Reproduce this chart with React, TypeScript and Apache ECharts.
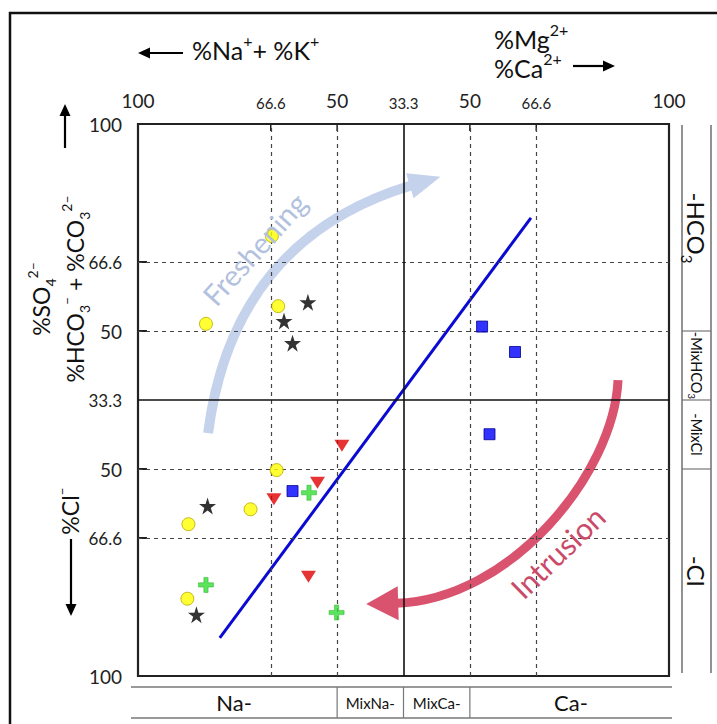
import { useEffect, useRef } from 'react';
import * as echarts from 'echarts';

const FONT = 'Lato, "Open Sans", "DejaVu Sans", sans-serif';

// Diagram units: 0–100 along each side of the square, 50 is the centre line.
const xTickValues = [0, 25, 37.5, 50, 62.5, 75, 100];
const xTickLabels = ['100', '66.6', '50', '33.3', '50', '66.6', '100'];
const yTickValues = [0, 25, 37.5, 50, 62.5, 75, 100];
const yTickLabels = ['100', '66.6', '50', '33.3', '50', '66.6', '100'];
const dashedLevels = [25, 37.5, 62.5, 75];
const centreLevel = 50;

// Facies classes: cations along the bottom, anions down the right side.
const cationClasses = ['{m|Na-}', '{s|MixNa-}', '{s|MixCa-}', '{m|Ca-}'];
const cationBreaks = [37.5, 50, 62.5];
const anionClasses = ['{m|-HCO}{sub|3}', '{s|-MixHCO}{ssub|3}', '{s|-MixCl}', '{m|-Cl}'];
const anionBreaks = [62.5, 50, 37.5];

// Samples, [x, y] in diagram units.
const circleSamples = [
  [25.2, 79.7], [26.4, 67.0], [12.8, 63.8], [26.1, 37.3],
  [21.2, 30.2], [9.5, 27.5], [9.3, 14.0],
];
const starSamples = [
  [32.0, 67.7], [27.5, 64.3], [29.1, 60.3], [13.1, 30.8], [11.0, 11.1],
];
const triangleSamples = [
  [38.4, 41.7], [33.8, 35.0], [25.6, 32.0], [32.1, 18.0],
];
const crossSamples = [
  [32.2, 33.2], [12.8, 16.5], [37.4, 11.5],
];
const squareSamples = [
  [29.1, 33.5], [64.8, 63.3], [71.0, 58.7], [66.2, 43.8],
];
// Conservative mixing line between fresh and saline end-members.
const mixingLine = [
  [15.4, 6.9], [74.0, 83.0],
];

const STAR =
  'path://M50,0 L61.2,34.5 L97.6,34.5 L68.2,55.9 L79.4,90.5 L50,69.1 L20.6,90.5 L31.8,55.9 L2.4,34.5 L38.8,34.5 Z';
const CROSS = 'path://M36,0 H64 V36 H100 V64 H64 V100 H36 V64 H0 V36 H36 Z';

const tickFormatter = (values: number[], labels: string[]) => (v: number) => {
  const i = values.findIndex((t) => Math.abs(t - v) < 1e-6);
  if (i < 0) return '';
  const l = labels[i];
  return l.includes('.') ? `{s|${l}}` : `{b|${l}}`;
};

function rich(size: number, color: string, small = 13) {
  const sup = Math.round(size * 0.62);
  const lh = Math.round(size * 1.4);
  const ssup = Math.round(small * 0.7);
  return {
    m: { fontSize: size, fontFamily: FONT, fill: color, lineHeight: lh, verticalAlign: 'middle' },
    sup: { fontSize: sup, fontFamily: FONT, fill: color, lineHeight: sup, verticalAlign: 'top' },
    sub: { fontSize: sup, fontFamily: FONT, fill: color, lineHeight: sup, verticalAlign: 'bottom' },
    s: { fontSize: small, fontFamily: FONT, fill: color, lineHeight: Math.round(small * 1.4), verticalAlign: 'middle' },
    ssub: { fontSize: ssup, fontFamily: FONT, fill: color, lineHeight: ssup, verticalAlign: 'bottom' },
  };
}

function text(
  content: string,
  x: number,
  y: number,
  size: number,
  opts: { rotation?: number; color?: string; align?: string; small?: number } = {}
) {
  const color = opts.color ?? '#111';
  return {
    type: 'text',
    x,
    y,
    rotation: opts.rotation ?? 0,
    z: 10,
    silent: true,
    style: {
      text: content,
      rich: rich(size, color, opts.small),
      align: opts.align ?? 'center',
      verticalAlign: 'middle',
      fontSize: size,
      fontFamily: FONT,
      fill: color,
    },
  };
}

function arrow(x1: number, y1: number, x2: number, y2: number, head = 12, half = 5.5, width = 2.2, color = '#000') {
  const dx = x2 - x1;
  const dy = y2 - y1;
  const len = Math.hypot(dx, dy);
  const ux = dx / len;
  const uy = dy / len;
  const bx = x2 - ux * head;
  const by = y2 - uy * head;
  return [
    { type: 'line', silent: true, z: 10, shape: { x1, y1, x2: bx + ux, y2: by + uy }, style: { stroke: color, lineWidth: width } },
    {
      type: 'polygon',
      silent: true,
      z: 10,
      shape: { points: [[x2, y2], [bx - uy * half, by + ux * half], [bx + uy * half, by - ux * half]] },
      style: { fill: color },
    },
  ];
}

// A thick curved arrow: cubic bezier in diagram units plus a triangular head along the end tangent.
function curvedArrow(px: (x: number, y: number) => number[], pts: number[][], color: string, width: number, head: number, half: number) {
  const [p0, p1, p2, p3] = pts.map(([x, y]) => px(x, y));
  const dx = p3[0] - p2[0];
  const dy = p3[1] - p2[1];
  const len = Math.hypot(dx, dy);
  const ux = dx / len;
  const uy = dy / len;
  const tip = [p3[0] + ux * head, p3[1] + uy * head];
  return [
    {
      type: 'bezierCurve',
      silent: true,
      z: 2,
      shape: { x1: p0[0], y1: p0[1], cpx1: p1[0], cpy1: p1[1], cpx2: p2[0], cpy2: p2[1], x2: p3[0] + ux * 2, y2: p3[1] + uy * 2 },
      style: { stroke: color, lineWidth: width, fill: 'none' },
    },
    {
      type: 'polygon',
      silent: true,
      z: 2,
      shape: { points: [tip, [p3[0] - uy * half, p3[1] + ux * half], [p3[0] + uy * half, p3[1] - ux * half]] },
      style: { fill: color },
    },
  ];
}

function buildGraphics(px: (x: number, y: number) => number[]) {
  const [L, T] = px(0, 100);
  const [R, B] = px(100, 0);
  const els: any[] = [];

  // page frame
  els.push({ type: 'rect', silent: true, z: 0, shape: { x: 10, y: 13, width: 740, height: 740 }, style: { fill: 'none', stroke: '#111', lineWidth: 2.5 } });

  // cation title (top)
  els.push(...arrow(183, 53, 138, 53));
  els.push(text('{m|%Na}{sup|+}{m|+ %K}{sup|+}', 192, 50, 25, { align: 'left' }));
  els.push(text('{m|%Mg}{sup|2+}', 494, 39, 25, { align: 'left' }));
  els.push(text('{m|%Ca}{sup|2+}', 494, 68, 25, { align: 'left' }));
  els.push(...arrow(573, 66, 615, 66));

  // anion title (left)
  els.push(...arrow(65, 148, 65, 104));
  els.push(text('{m|%SO}{sub|4}{sup|2–}', 41, 299, 23, { rotation: Math.PI / 2 }));
  els.push(text('{m|%HCO}{sub|3}{sup|–}{m| + %CO}{sub|3}{sup|2–}', 75, 289, 23, { rotation: Math.PI / 2 }));
  els.push(text('{m|%Cl}{sup|–}', 70, 511, 23, { rotation: Math.PI / 2 }));
  els.push(...arrow(71, 539, 71, 616));

  // short solid ticks where the dashed levels meet the frame
  dashedLevels.forEach((v) => {
    const [, y] = px(0, v);
    const [x] = px(v, 0);
    els.push({ type: 'line', silent: true, z: 3, shape: { x1: L, y1: y, x2: L + 9, y2: y }, style: { stroke: '#222', lineWidth: 2 } });
    els.push({ type: 'line', silent: true, z: 3, shape: { x1: x, y1: T, x2: x, y2: T + 7 }, style: { stroke: '#222', lineWidth: 1.5 } });
  });

  // cation class panel
  const pTop = B + 11;
  const pBot = B + 42;
  const pL = L - 7;
  const pR = R + 3;
  const panelStroke = { stroke: '#777', lineWidth: 1.6 };
  els.push({ type: 'line', silent: true, shape: { x1: pL, y1: pTop, x2: pR, y2: pTop }, style: panelStroke });
  els.push({ type: 'line', silent: true, shape: { x1: pL, y1: pBot, x2: pR, y2: pBot }, style: panelStroke });
  const cx = [pL, ...cationBreaks.map((v) => px(v, 0)[0]), pR];
  cationBreaks.forEach((v) => {
    const [x] = px(v, 0);
    els.push({ type: 'line', silent: true, shape: { x1: x, y1: pTop, x2: x, y2: pBot }, style: { stroke: '#777', lineWidth: 1.2 } });
  });
  cationClasses.forEach((c, i) => {
    els.push(text(c, (cx[i] + cx[i + 1]) / 2, (pTop + pBot) / 2, 22, { small: 15 }));
  });

  // anion class panel
  const qL = R + 13;
  const qR = R + 42;
  const qT = T + 1;
  const qB = B - 3;
  els.push({ type: 'line', silent: true, shape: { x1: qL, y1: qT, x2: qL, y2: qB }, style: panelStroke });
  els.push({ type: 'line', silent: true, shape: { x1: qR, y1: qT, x2: qR, y2: qB }, style: panelStroke });
  const ay = [qT, ...anionBreaks.map((v) => px(0, v)[1]), qB];
  anionBreaks.forEach((v) => {
    const [, y] = px(0, v);
    els.push({ type: 'line', silent: true, shape: { x1: qL, y1: y, x2: qR, y2: y }, style: { stroke: '#777', lineWidth: 1.2 } });
  });
  anionClasses.forEach((c, i) => {
    els.push(text(c, (qL + qR) / 2, (ay[i] + ay[i + 1]) / 2, 24, { rotation: -Math.PI / 2, small: 14.5 }));
  });

  // process arrows
  els.push(
    ...curvedArrow(px, [[13.2, 44.0], [16.2, 66.7], [28.6, 82.3], [51.2, 88.8]], '#c5d2ec', 10, 32, 13)
  );
  const [fx, fy] = px(21.9, 77.4);
  els.push(text('{m|Freshening}', fx, fy, 29, { rotation: (48 * Math.PI) / 180, color: '#b2c1de' }));

  els.push(
    ...curvedArrow(px, [[90.4, 53.6], [89.6, 36.6], [70.1, 13.8], [49.0, 13.2]], '#d9536e', 9, 32, 17)
  );
  const [ix, iy] = px(79.0, 22.5);
  els.push(text('{m|Intrusion}', ix, iy, 30, { rotation: (44 * Math.PI) / 180, color: '#c94b69' }));

  return els;
}

export default function App() {
  const ref = useRef<HTMLDivElement>(null);

  useEffect(() => {
    const chart = echarts.init(ref.current!, null, { renderer: 'svg' });
    const tickRichX = {
      b: { fontSize: 19, fontFamily: FONT, color: '#222' },
      s: { fontSize: 15, fontFamily: FONT, color: '#222' },
    };
    const tickRichY = {
      b: { fontSize: 19, fontFamily: FONT, color: '#222' },
      s: { fontSize: 17, fontFamily: FONT, color: '#222' },
    };
    const gridLine = (type: any, color: string, width: number) => ({ type, color, width });

    chart.setOption({
      animation: false,
      backgroundColor: '#fff',
      grid: { left: 138, top: 124, width: 531, height: 552, show: true, borderColor: '#222', borderWidth: 2.2 },
      xAxis: {
        type: 'value',
        position: 'top',
        min: 0,
        max: 100,
        interval: 12.5,
        axisLine: { show: false },
        axisTick: { show: false },
        splitLine: { show: false },
        axisLabel: {
          margin: 14,
          showMinLabel: true,
          showMaxLabel: true,
          formatter: tickFormatter(xTickValues, xTickLabels),
          rich: tickRichX,
        },
      },
      yAxis: {
        type: 'value',
        min: 0,
        max: 100,
        interval: 12.5,
        axisLine: { show: false },
        axisTick: { show: false },
        splitLine: { show: false },
        axisLabel: {
          margin: 16,
          showMinLabel: true,
          showMaxLabel: true,
          formatter: tickFormatter(yTickValues, yTickLabels),
          rich: tickRichY,
        },
      },
      series: [
        {
          name: 'levels',
          type: 'line',
          data: [],
          z: 1,
          silent: true,
          markLine: {
            silent: true,
            symbol: ['none', 'none'],
            label: { show: false },
            data: [
              ...dashedLevels.map((v) => ({ xAxis: v, lineStyle: gridLine([4, 4], '#444', 1.2) })),
              ...dashedLevels.map((v) => ({ yAxis: v, lineStyle: gridLine([4, 4], '#444', 1.2) })),
              { xAxis: centreLevel, lineStyle: gridLine('solid', '#111', 1.6) },
              { yAxis: centreLevel, lineStyle: gridLine('solid', '#111', 1.6) },
            ],
          },
        },
        {
          name: 'mixing line',
          type: 'line',
          data: mixingLine,
          symbol: 'none',
          z: 4,
          lineStyle: { color: '#0a0ad2', width: 3 },
        },
        {
          name: 'circles',
          type: 'scatter',
          data: circleSamples,
          z: 5,
          symbol: 'circle',
          symbolSize: 13,
          itemStyle: { color: '#ffff00', borderColor: '#b8a800', borderWidth: 1 },
        },
        {
          name: 'stars',
          type: 'scatter',
          data: starSamples,
          z: 5,
          symbol: STAR,
          symbolSize: 17,
          itemStyle: { color: '#000' },
        },
        {
          name: 'triangles',
          type: 'scatter',
          data: triangleSamples,
          z: 5,
          symbol: 'triangle',
          symbolRotate: 180,
          symbolSize: [15, 12],
          itemStyle: { color: '#e00000' },
        },
        {
          name: 'crosses',
          type: 'scatter',
          data: crossSamples,
          z: 5,
          symbol: CROSS,
          symbolSize: 15,
          itemStyle: { color: '#33dd33', borderColor: '#22aa22', borderWidth: 0.6 },
        },
        {
          name: 'squares',
          type: 'scatter',
          data: squareSamples,
          z: 5,
          symbol: 'rect',
          symbolSize: 11,
          itemStyle: { color: '#0000ff', borderColor: '#000090', borderWidth: 1 },
        },
      ],
    });

    const px = (x: number, y: number) => chart.convertToPixel({ gridIndex: 0 }, [x, y]) as number[];
    chart.setOption({ graphic: buildGraphics(px) });

    return () => chart.dispose();
  }, []);

  return (
    <div
      ref={ref}
      style={{ position: 'fixed', left: 0, top: 0, width: 717, height: 724, background: '#fff' }}
    />
  );
}
